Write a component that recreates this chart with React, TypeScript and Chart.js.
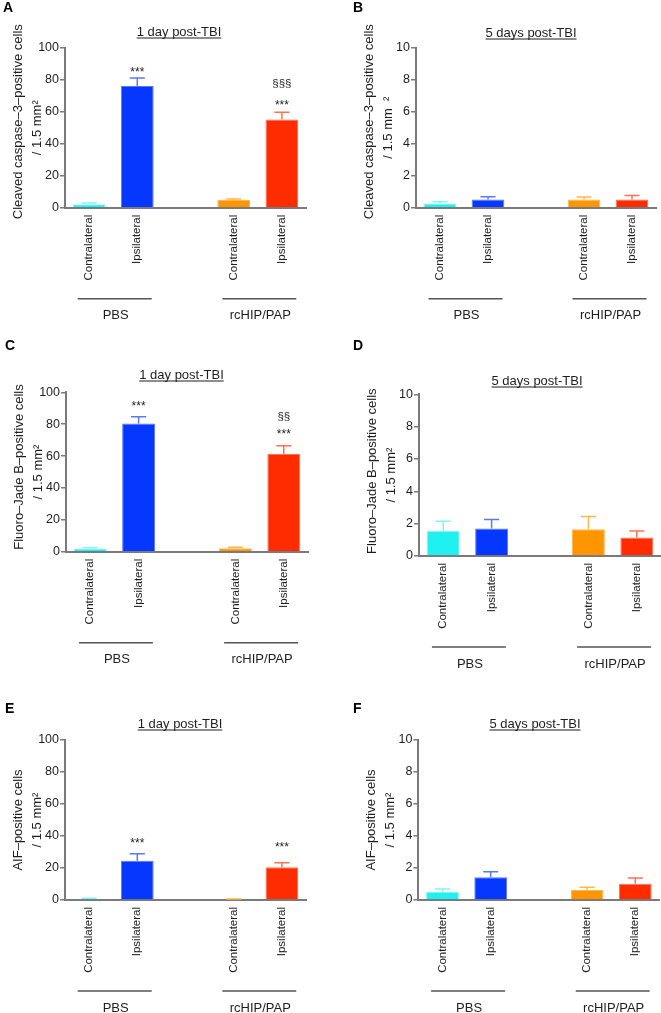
import React, { useEffect, useRef } from "react";
import { Chart, registerables } from "chart.js";

Chart.register(...registerables);

// ---------- data ----------
const categories = ["Contralateral", "Ipsilateral", "", "Contralateral", "Ipsilateral"];
const groupNames = ["PBS", "rcHIP/PAP"];
const groupBars = [[0, 1], [3, 4]];

const barFills = ["#20f0f0", "#0537ff", "#ffffff", "#ff9500", "#ff2c00"];
const barEdges = ["#80f6f6", "#5a78ff", "#ffffff", "#ffb64d", "#ff7250"];

const caspase1dMean = [2.2, 76, null, 4.8, 55.2];
const caspase1dSem = [0.8, 5, null, 0.6, 4.4];
const caspase1dMarks = [
  { bar: 1, text: "***", at: 86.7 },
  { bar: 4, text: "***", at: 66 },
  { bar: 4, text: "§§§", at: 77.3 },
];

const caspase5dMean = [0.27, 0.52, null, 0.52, 0.52];
const caspase5dSem = [0.1, 0.17, null, 0.15, 0.25];

const fjb1dMean = [2.0, 80.5, null, 2.2, 61.3];
const fjb1dSem = [0.4, 4.2, null, 0.6, 5.2];
const fjb1dMarks = [
  { bar: 1, text: "***", at: 93 },
  { bar: 4, text: "***", at: 75.9 },
  { bar: 4, text: "§§", at: 85.1 },
];

const fjb5dMean = [1.55, 1.7, null, 1.65, 1.15];
const fjb5dSem = [0.6, 0.55, null, 0.8, 0.4];

const aif1dMean = [0.8, 24.6, null, 0.5, 20.4];
const aif1dSem = [0.3, 4.3, null, 0.2, 2.9];
const aif1dMarks = [
  { bar: 1, text: "***", at: 37.5 },
  { bar: 4, text: "***", at: 34.8 },
];

const aif5dMean = [0.52, 1.42, null, 0.62, 1.02];
const aif5dSem = [0.17, 0.35, null, 0.17, 0.36];

const caspaseTitle = ["Cleaved caspase–3–positive cells", "/ 1.5 mm²"];
const caspaseTitleB = ["Cleaved caspase–3–positive cells", "/ 1.5 mm  ²"];
const fjbTitle = ["Fluoro–Jade B–positive cells", "/ 1.5 mm²"];
const aifTitle = ["AIF–positive cells", "/ 1.5 mm²"];

const day1Title = "1 day post-TBI";
const day5Title = "5 days post-TBI";

// ---------- layout ----------
const FONT = "'Liberation Sans', Arial, Helvetica, sans-serif";
const AXIS = "#7a7a7a";
const TEXT = "#1e1e1e";

type PanelCfg = {
  letter: string;
  letterPos: [number, number];
  box: { x: number; y: number; w: number; h: number };
  area: { left: number; right: number; top: number; bottom: number };
  title: string;
  titlePos: [number, number];
  yTitle: string[];
  yTitleShift: number;
  max: number;
  step: number;
  means: (number | null)[];
  sems: (number | null)[];
  marks: { bar: number; text: string; at: number }[];
};

const panels: PanelCfg[] = [
  {
    letter: "A", letterPos: [3, 12],
    box: { x: 0, y: 0, w: 330, h: 330 },
    area: { left: 65, right: 306, top: 47.7, bottom: 207.7 },
    title: day1Title, titlePos: [179, 36], yTitle: caspaseTitle, yTitleShift: -6,
    max: 100, step: 20, means: caspase1dMean, sems: caspase1dSem, marks: caspase1dMarks,
  },
  {
    letter: "B", letterPos: [353, 12],
    box: { x: 330, y: 0, w: 331, h: 330 },
    area: { left: 416, right: 656, top: 47.7, bottom: 207.7 },
    title: day5Title, titlePos: [531, 37], yTitle: caspaseTitleB, yTitleShift: -6,
    max: 10, step: 2, means: caspase5dMean, sems: caspase5dSem, marks: [],
  },
  {
    letter: "C", letterPos: [5, 350],
    box: { x: 0, y: 330, w: 330, h: 340 },
    area: { left: 66, right: 308, top: 392.3, bottom: 551.7 },
    title: day1Title, titlePos: [181.5, 379], yTitle: fjbTitle, yTitleShift: -5,
    max: 100, step: 20, means: fjb1dMean, sems: fjb1dSem, marks: fjb1dMarks,
  },
  {
    letter: "D", letterPos: [353, 350],
    box: { x: 330, y: 330, w: 331, h: 340 },
    area: { left: 419, right: 661, top: 394.3, bottom: 556 },
    title: day5Title, titlePos: [537, 385], yTitle: fjbTitle, yTitleShift: -4,
    max: 10, step: 2, means: fjb5dMean, sems: fjb5dSem, marks: [],
  },
  {
    letter: "E", letterPos: [5, 713],
    box: { x: 0, y: 670, w: 330, h: 343 },
    area: { left: 65, right: 306, top: 740, bottom: 900 },
    title: day1Title, titlePos: [180, 728], yTitle: aifTitle, yTitleShift: 0,
    max: 100, step: 20, means: aif1dMean, sems: aif1dSem, marks: aif1dMarks,
  },
  {
    letter: "F", letterPos: [353, 713],
    box: { x: 330, y: 670, w: 331, h: 343 },
    area: { left: 418.4, right: 659.4, top: 740, bottom: 900 },
    title: day5Title, titlePos: [535, 728], yTitle: aifTitle, yTitleShift: 0,
    max: 10, step: 2, means: aif5dMean, sems: aif5dSem, marks: [],
  },
];

function makeDecor(cfg: PanelCfg) {
  const ox = cfg.box.x;
  const oy = cfg.box.y;
  return {
    id: "panelDecor",
    afterDatasetsDraw(chart: any) {
      const ctx = chart.ctx as CanvasRenderingContext2D;
      const meta = chart.getDatasetMeta(0);
      const ys = chart.scales.y;
      cfg.means.forEach((m, i) => {
        if (m == null) return;
        const bar = meta.data[i] as any;
        const x = bar.x;
        const capW = bar.width * 0.46;
        const y0 = ys.getPixelForValue(m);
        const y1 = ys.getPixelForValue(m + (cfg.sems[i] as number));
        ctx.save();
        ctx.strokeStyle = barEdges[i];
        ctx.lineWidth = 1.5;
        ctx.beginPath();
        ctx.moveTo(x, y0);
        ctx.lineTo(x, y1);
        ctx.moveTo(x - capW / 2, y1);
        ctx.lineTo(x + capW / 2, y1);
        ctx.stroke();
        ctx.restore();
      });
    },
    afterDraw(chart: any) {
      const ctx = chart.ctx as CanvasRenderingContext2D;
      const area = chart.chartArea;
      const meta = chart.getDatasetMeta(0);
      const ys = chart.scales.y;
      ctx.save();
      // panel letter
      ctx.fillStyle = "#000";
      ctx.font = `bold 14px ${FONT}`;
      ctx.textAlign = "left";
      ctx.textBaseline = "alphabetic";
      ctx.fillText(cfg.letter, cfg.letterPos[0] - ox, cfg.letterPos[1] - oy);

      // underlined title
      ctx.fillStyle = TEXT;
      ctx.font = `13px ${FONT}`;
      ctx.textAlign = "center";
      const tx = cfg.titlePos[0] - ox;
      const ty = cfg.titlePos[1] - oy;
      ctx.fillText(cfg.title, tx, ty);
      const tw = ctx.measureText(cfg.title).width;
      ctx.strokeStyle = TEXT;
      ctx.lineWidth = 1;
      ctx.beginPath();
      ctx.moveTo(tx - tw / 2, ty + 2);
      ctx.lineTo(tx + tw / 2, ty + 2);
      ctx.stroke();

      // y-axis title (two rotated lines)
      const cy = (area.top + area.bottom) / 2;
      const lineX = [area.left - 47, area.left - 28];
      ctx.font = `13px ${FONT}`;
      ctx.textBaseline = "middle";
      cfg.yTitle.forEach((line, k) => {
        ctx.save();
        ctx.translate(lineX[k], cy + (k === 0 ? cfg.yTitleShift : 0));
        ctx.rotate(-Math.PI / 2);
        ctx.fillText(line, 0, 0);
        ctx.restore();
      });

      // significance marks
      ctx.textBaseline = "alphabetic";
      cfg.marks.forEach((mk) => {
        const bar = meta.data[mk.bar] as any;
        const isStar = mk.text.startsWith("*");
        const fs = isStar ? 12 : 11.5;
        ctx.font = `${fs}px ${FONT}`;
        const y = ys.getPixelForValue(mk.at) + (isStar ? 0.57 : 0.3) * fs;
        ctx.fillText(mk.text, bar.x, y);
      });

      // group lines and names
      ctx.strokeStyle = "#555";
      ctx.lineWidth = 1.5;
      ctx.font = `13px ${FONT}`;
      ctx.textBaseline = "middle";
      groupBars.forEach((pair, g) => {
        const a = meta.data[pair[0]] as any;
        const b = meta.data[pair[1]] as any;
        const mid = (a.x + b.x) / 2 + 1.5;
        const ly = area.bottom + 91;
        ctx.beginPath();
        ctx.moveTo(mid - 37, ly);
        ctx.lineTo(mid + 37, ly);
        ctx.stroke();
        ctx.fillText(groupNames[g], mid + 1, area.bottom + 108);
      });
      ctx.restore();
    },
  };
}

function Panel({ cfg }: { cfg: PanelCfg }) {
  const ref = useRef<HTMLCanvasElement>(null);
  useEffect(() => {
    const canvas = ref.current!;
    const xH = 100;
    const yW = cfg.area.left - cfg.box.x;
    const padTop = cfg.area.top - cfg.box.y;
    const padRight = cfg.box.x + cfg.box.w - cfg.area.right;
    const padBottom = cfg.box.y + cfg.box.h - cfg.area.bottom - xH;
    const chart = new Chart(canvas, {
      type: "bar",
      data: {
        labels: categories,
        datasets: [
          {
            data: cfg.means as any,
            backgroundColor: barFills,
            borderColor: barEdges,
            borderWidth: 1,
            borderSkipped: "bottom",
            barPercentage: 0.68,
            categoryPercentage: 1,
          },
        ],
      },
      options: {
        responsive: false,
        animation: false,
        devicePixelRatio: 1,
        layout: { padding: { left: 0, top: padTop, right: padRight, bottom: padBottom } },
        plugins: {
          legend: { display: false },
          tooltip: { enabled: false },
          title: { display: false },
        },
        scales: {
          x: {
            type: "category",
            grid: { display: false, drawTicks: false },
            border: { display: true, color: AXIS, width: 2 },
            ticks: {
              autoSkip: false,
              maxRotation: 90,
              minRotation: 90,
              padding: 7,
              color: TEXT,
              font: { family: FONT, size: 11.5 },
            },
            afterFit: (s: any) => {
              s.height = xH;
            },
          },
          y: {
            min: 0,
            max: cfg.max,
            ticks: {
              stepSize: cfg.step,
              color: TEXT,
              padding: 1,
              font: { family: FONT, size: 12.5 },
            },
            grid: {
              drawOnChartArea: false,
              drawTicks: true,
              tickLength: 5,
              color: AXIS,
              lineWidth: 1.5,
            },
            border: { display: true, color: AXIS, width: 2 },
            afterFit: (s: any) => {
              s.width = yW;
            },
          },
        },
      },
      plugins: [makeDecor(cfg)],
    } as any);
    return () => chart.destroy();
  }, [cfg]);
  return (
    <canvas
      ref={ref}
      width={cfg.box.w}
      height={cfg.box.h}
      style={{
        position: "absolute",
        left: cfg.box.x,
        top: cfg.box.y,
        width: cfg.box.w,
        height: cfg.box.h,
      }}
    />
  );
}

export default function App() {
  return (
    <div
      style={{
        position: "absolute",
        left: 0,
        top: 0,
        width: 661,
        height: 1013,
        background: "#ffffff",
        overflow: "hidden",
      }}
    >
      {panels.map((p) => (
        <Panel key={p.letter} cfg={p} />
      ))}
    </div>
  );
}
